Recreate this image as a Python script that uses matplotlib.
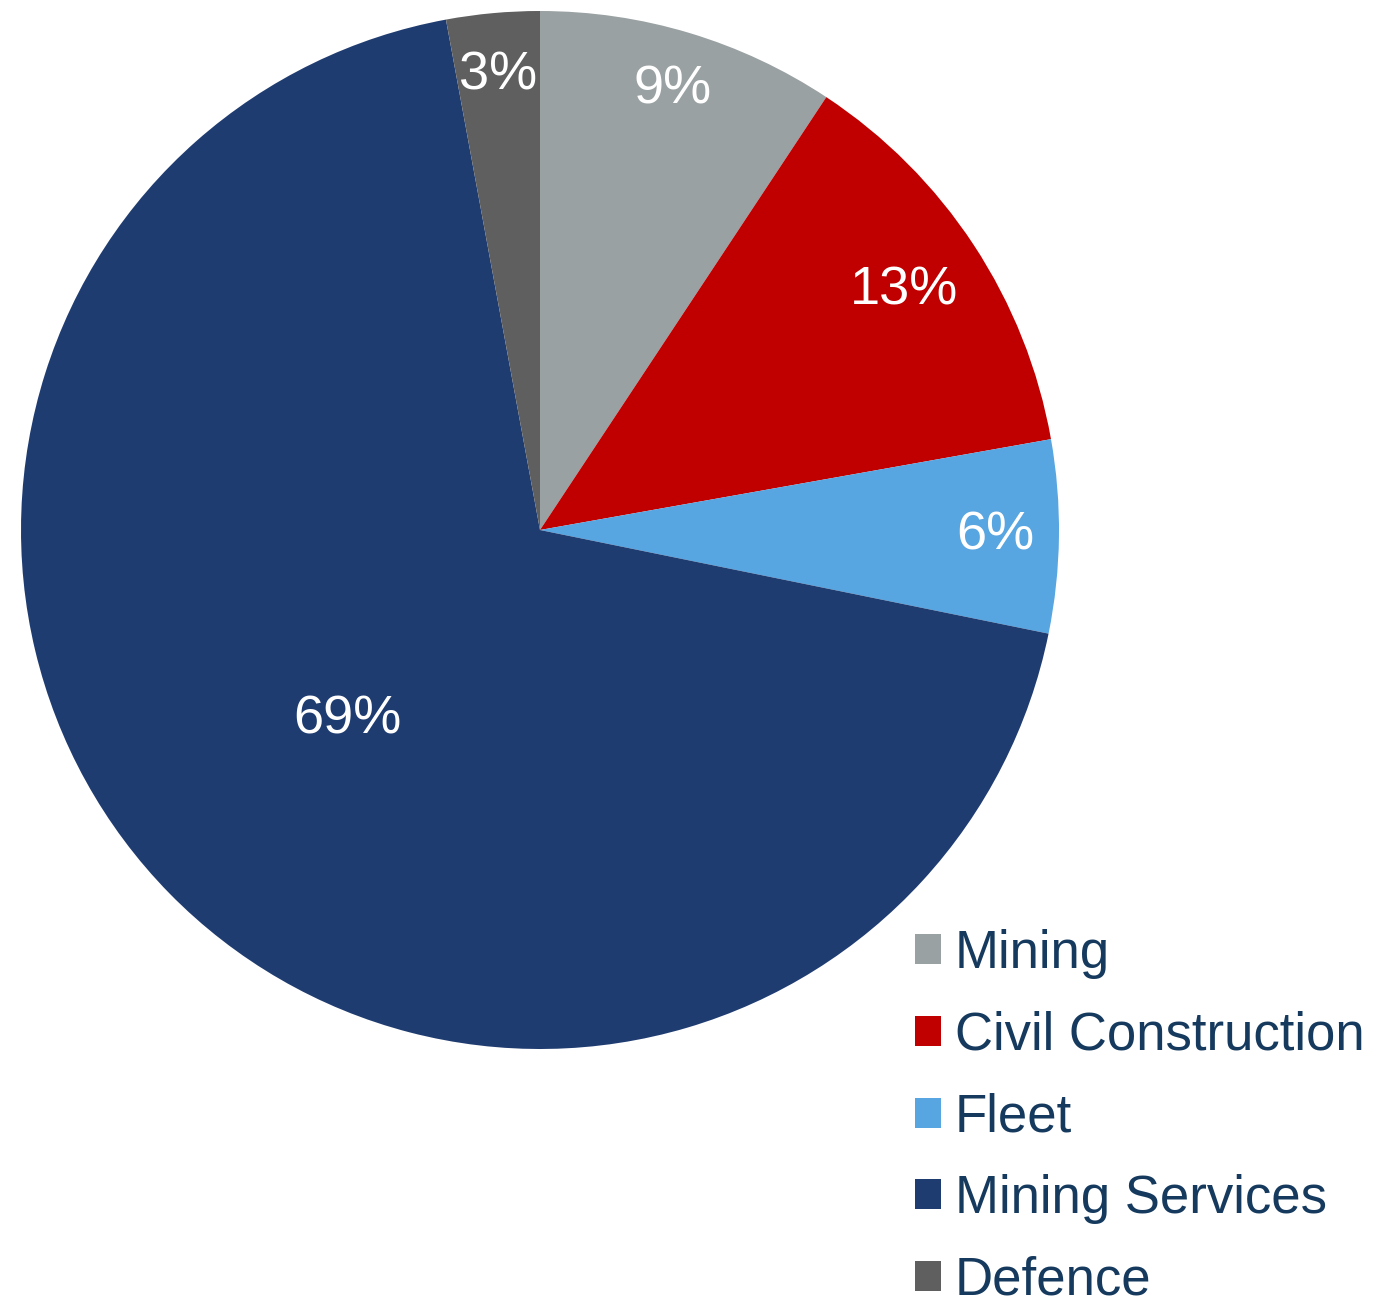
import numpy as np
import matplotlib.pyplot as plt

plt.rcParams['font.family'] = ['Liberation Sans', 'DejaVu Sans']

segments = ["Mining", "Civil Construction", "Fleet", "Mining Services", "Defence"]
shares = [9.3, 12.9, 6.0, 68.9, 2.9]
colors = ["#9AA1A3", "#C00000", "#57A5E1", "#1F3C71", "#5F5F5F"]
label_r = [0.886, 0.84, 0.877, 0.52, 0.88]  # radial position of % labels

fig = plt.figure(figsize=(13.76, 12.97), dpi=100)
ax = fig.add_axes([21/1376, 248/1297, 1038/1376, 1038/1297])

wedges, _ = ax.pie(shares, colors=colors, startangle=90, counterclock=False,
                   radius=1, wedgeprops=dict(linewidth=0))
ax.set_xlim(-1, 1)
ax.set_ylim(-1, 1)
ax.set_aspect("equal")
ax.axis("off")

for w, v, r in zip(wedges, shares, label_r):
    ang = np.deg2rad((w.theta1 + w.theta2) / 2)
    ax.text(r*np.cos(ang), r*np.sin(ang), f"{v:.0f}%", color="white",
            fontsize=39, ha="center", va="center")

fig.legend(wedges, segments, loc="upper left", bbox_to_anchor=(915/1376, 1 - 929/1297),
           frameon=False, fontsize=38, handlelength=0.5, handleheight=0.5,
           handletextpad=0.25, labelspacing=0.6, borderpad=0, borderaxespad=0,
           labelcolor="#153A5E")

fig.savefig("out.png", dpi=100)
